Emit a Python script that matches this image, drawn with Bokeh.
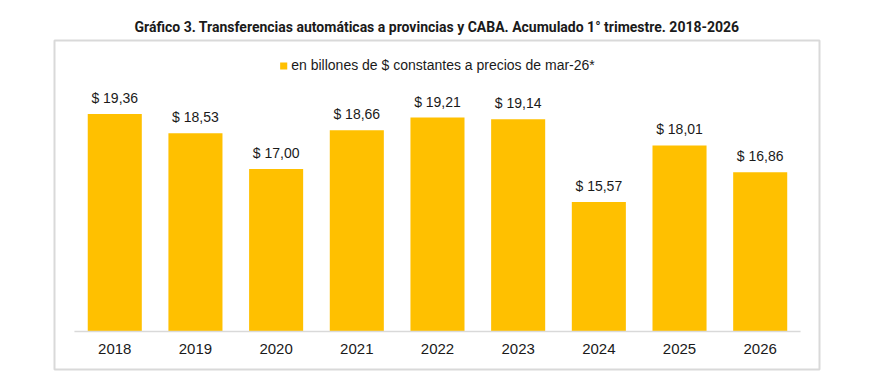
from bokeh.plotting import figure
from bokeh.models import ColumnDataSource, Range1d, LabelSet, Legend, LegendItem
from bokeh.core.properties import value
from bokeh.embed import file_html
from bokeh.resources import INLINE

title_text = "Gráfico 3. Transferencias automáticas a provincias y CABA. Acumulado 1° trimestre. 2018-2026"
series_name = "en billones de $ constantes a precios de mar-26*"
years = ["2018", "2019", "2020", "2021", "2022", "2023", "2024", "2025", "2026"]
values = [19.36, 18.53, 17.00, 18.66, 19.21, 19.14, 15.57, 18.01, 16.86]
value_labels = ["$ 19,36", "$ 18,53", "$ 17,00", "$ 18,66", "$ 19,21", "$ 19,14", "$ 15,57", "$ 18,01", "$ 16,86"]
axis_base = 10.0

BAR = "#FFC000"
TXT = "#1A1A1A"
GRAY = "#D9D9D9"
FONT = "Liberation Sans"
TFONT = "Roboto"

n = len(years)
xs = list(range(n))
src = ColumnDataSource(dict(x=xs, year=years, value=values, label=value_labels,
                            base=[axis_base] * n))

y0, y1 = 8.36, 22.53
p = figure(width=873, height=372, output_backend="svg", toolbar_location=None,
           x_axis_type=None, y_axis_type=None,
           x_range=Range1d(-0.747, n - 1 + 0.735), y_range=Range1d(y0, y1),
           min_border_left=54, min_border_right=54, min_border_top=40, min_border_bottom=3)
p.outline_line_color = GRAY
p.outline_line_width = 2
p.background_fill_color = "white"
p.border_fill_color = "white"

p.title.text = title_text
p.title.align = "center"
p.title.text_font = TFONT
p.title.text_font_size = "14px"
p.title.text_font_style = "bold"
p.title.text_color = TXT
p.title.standoff = 12

bars = p.vbar(x="x", top="value", bottom="base", width=0.67, source=src,
              fill_color=BAR, line_color=None)

p.segment(x0=[-0.5], x1=[n - 0.5], y0=[axis_base], y1=[axis_base],
          line_color=GRAY, line_width=1.5)

p.add_layout(LabelSet(x="x", y="value", text="label", source=src, text_align="center",
                      text_baseline="alphabetic", y_offset=11, text_font=value(FONT),
                      text_font_size=value("14px"), text_color=TXT))
p.add_layout(LabelSet(x="x", y="base", text="year", source=src, text_align="center",
                      text_baseline="alphabetic", y_offset=-23, text_font=value(FONT),
                      text_font_size=value("15px"), text_color=TXT))

legend = Legend(items=[LegendItem(label=series_name, renderers=[bars])],
                location="top_center", orientation="horizontal",
                glyph_width=9, glyph_height=9, label_standoff=4,
                label_text_font=FONT, label_text_font_size="14px", label_text_color=TXT,
                border_line_color=None, background_fill_alpha=0, margin=17, padding=0)
p.add_layout(legend)

open("out.html", "w").write(file_html(p, INLINE))
